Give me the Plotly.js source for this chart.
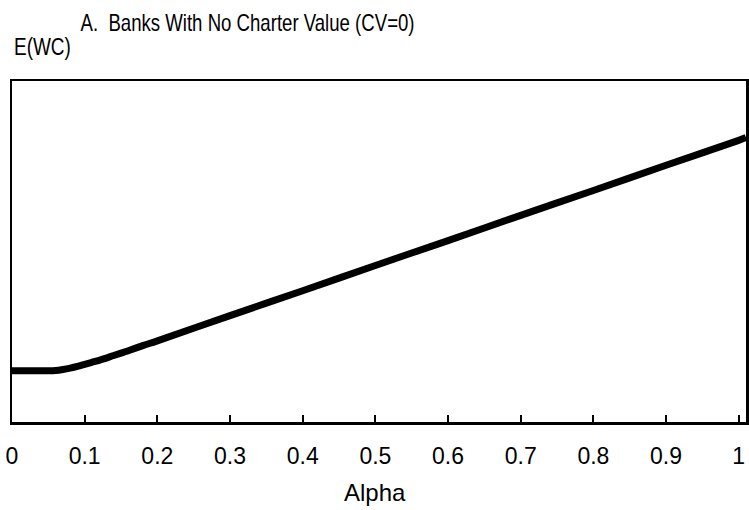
<!DOCTYPE html>
<html>
<head>
<meta charset="utf-8">
<script src="https://cdn.plot.ly/plotly-3.0.1.min.js"></script>
<style>html,body{margin:0;padding:0;background:#fff;}#chart{width:749px;height:510px;}</style>
</head>
<body>
<div id="chart"></div>
<script>
var alpha = [0, 0.02, 0.04, 0.05, 0.06, 0.07, 0.08, 0.09, 0.10, 0.11, 0.12, 0.14, 0.16, 0.18, 0.2, 0.3, 0.4, 0.5, 0.6, 0.7, 0.8, 0.9, 1.0, 1.01];
var ewc = [0.150, 0.150, 0.150, 0.150, 0.151, 0.154, 0.158, 0.163, 0.169, 0.175, 0.181, 0.195, 0.209, 0.224, 0.238, 0.312, 0.385, 0.459, 0.532, 0.606, 0.679, 0.753, 0.826, 0.834];
var xTickVals = [0, 0.1, 0.2, 0.3, 0.4, 0.5, 0.6, 0.7, 0.8, 0.9, 1];
var xTickText = ['0', '0.1', '0.2', '0.3', '0.4', '0.5', '0.6', '0.7', '0.8', '0.9', '1'];
var titleText = 'A.  Banks With No Charter Value (CV=0)';
var yTitleText = 'E(WC)';
var xTitleText = 'Alpha';

var regular = '"Liberation Sans", Arial, sans-serif';

var trace = {
  x: alpha, y: ewc, type: 'scatter', mode: 'lines',
  line: {color: '#000', width: 7, shape: 'spline', smoothing: 0.8},
  hoverinfo: 'skip', showlegend: false
};

var layout = {
  width: 749, height: 510,
  margin: {l: 12, r: 3, t: 81, b: 88, pad: 0},
  paper_bgcolor: '#fff', plot_bgcolor: '#fff',
  xaxis: {
    range: [0, 1.01], tickvals: xTickVals, ticktext: xTickText,
    ticks: 'inside', ticklen: 7, tickwidth: 2, tickcolor: '#000',
    showline: true, linecolor: '#000', linewidth: 2.5, mirror: true,
    showgrid: false, zeroline: false,
    tickfont: {family: regular, size: 23, color: '#000'},
    ticklabelstandoff: 12
  },
  yaxis: {
    range: [0, 1], showticklabels: false, ticks: '',
    showline: true, linecolor: '#000', linewidth: 2.5, mirror: true,
    showgrid: false, zeroline: false
  },
  annotations: [
    {text: titleText, xref: 'paper', yref: 'paper', x: (247.5 - 12) / 734, y: 1.172,
     xanchor: 'center', yanchor: 'middle', showarrow: false,
     font: {family: regular, size: 24, color: '#000'}},
    {text: yTitleText, xref: 'paper', yref: 'paper', x: 0, y: 1.100,
     xanchor: 'left', yanchor: 'middle', showarrow: false,
     font: {family: regular, size: 24, color: '#000'}},
    {text: xTitleText, xref: 'paper', yref: 'paper', x: (375 - 12) / 734, y: -0.208,
     xanchor: 'center', yanchor: 'middle', showarrow: false,
     font: {family: regular, size: 24, color: '#000'}}
  ]
};

// horizontal condensing of the two narrow titles (index -> [scale, anchor])
var condense = {0: [0.775, 'center'], 1: [0.79, 'left']};

Plotly.newPlot('chart', [trace], layout, {displayModeBar: false, staticPlot: true}).then(function (gd) {
  var anns = gd.querySelectorAll('.annotation');
  anns.forEach(function (a) {
    var idx = +a.getAttribute('data-index');
    if (!(idx in condense)) return;
    var t = a.querySelector('text.annotation-text');
    if (!t) return;
    var bb = t.getBBox();
    var s = condense[idx][0];
    var cx = condense[idx][1] === 'center' ? bb.x + bb.width / 2 : bb.x;
    var prev = t.getAttribute('transform') || '';
    t.setAttribute('transform', prev + ' translate(' + cx + ',0) scale(' + s + ',1) translate(' + (-cx) + ',0)');
  });
});
</script>
</body>
</html>
